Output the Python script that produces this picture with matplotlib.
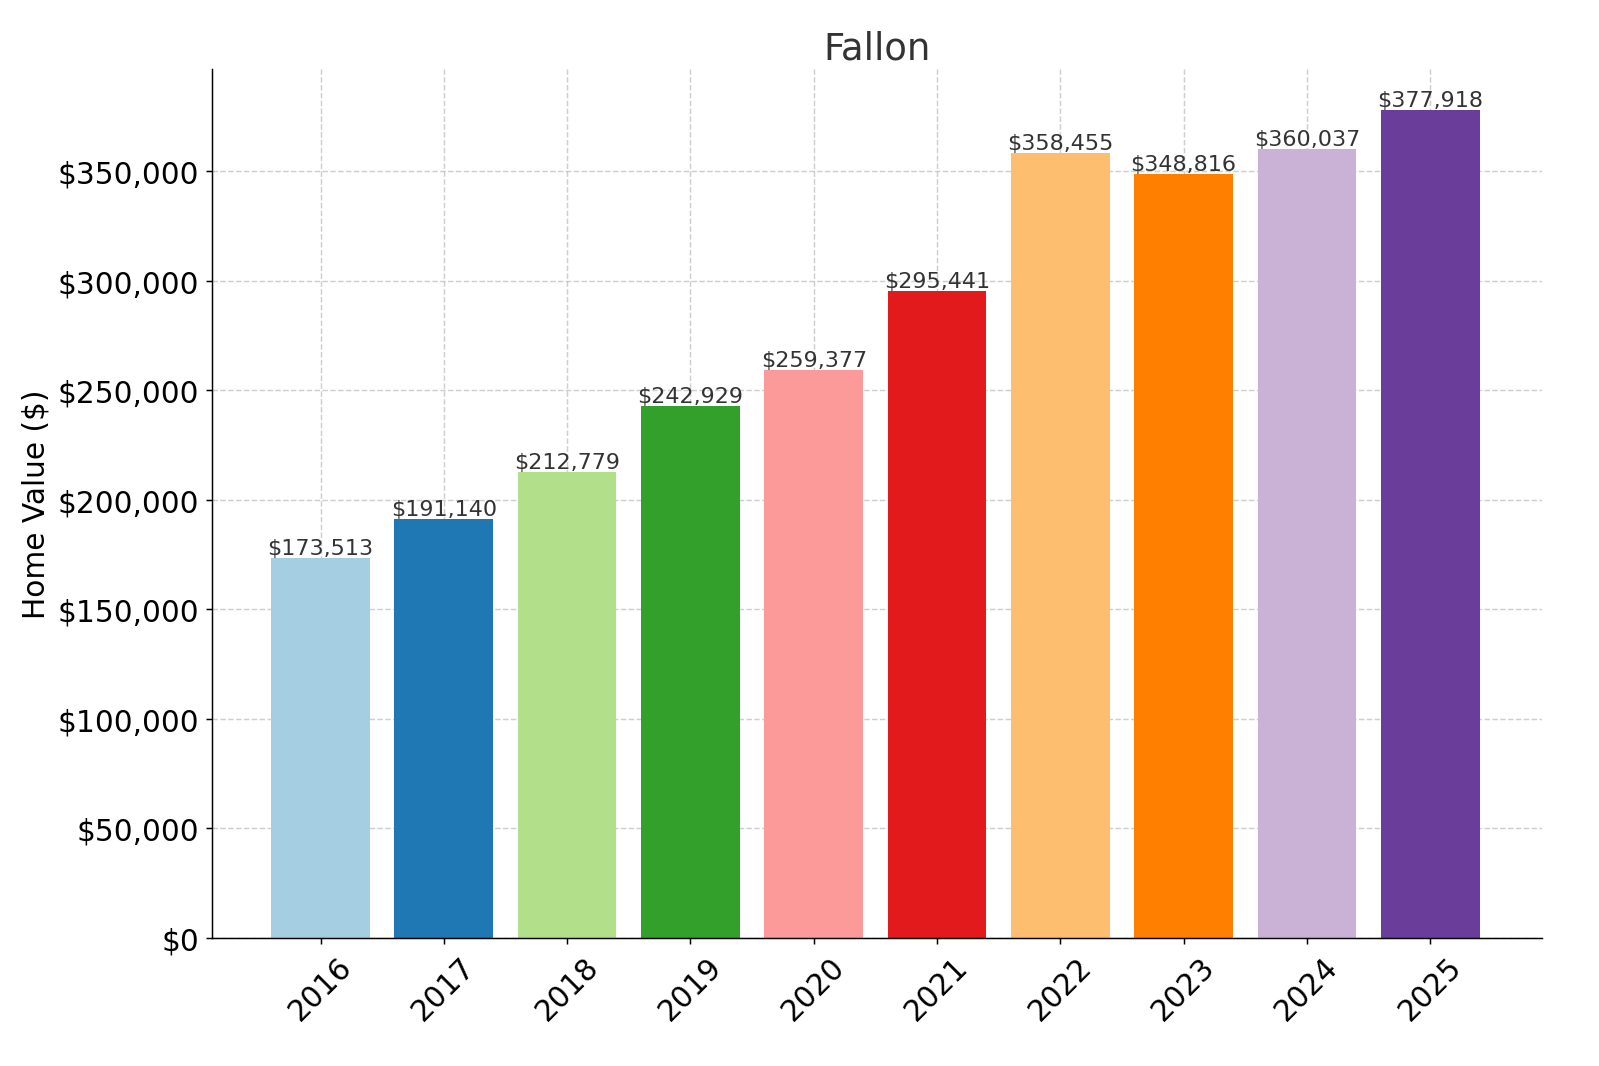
import matplotlib
matplotlib.use("Agg")
import matplotlib.pyplot as plt
from matplotlib.ticker import FuncFormatter

years = ["2016", "2017", "2018", "2019", "2020", "2021", "2022", "2023", "2024", "2025"]
values = [173513, 191140, 212779, 242929, 259377, 295441, 358455, 348816, 360037, 377918]

colors = plt.cm.Paired.colors[:len(years)]

fig = plt.figure(figsize=(12, 8.0025), dpi=133.333)
ax = fig.add_axes([0.1325, 0.12, 0.8315, 0.814])
x = range(len(years))
bars = ax.bar(x, values, width=0.8, color=colors, zorder=2)
for bar, val in zip(bars, values):
    ax.text(bar.get_x() + bar.get_width() / 2, bar.get_height(), f"${val:,}",
            ha="center", va="bottom", fontsize=12, color="#333333", zorder=3)

ax.set_xticks(list(x))
ax.set_xticklabels(years, rotation=45, fontsize=16)
ax.yaxis.set_major_formatter(FuncFormatter(lambda v, _: f"${v:,.0f}"))
ax.tick_params(axis="y", labelsize=16)
ax.set_xlim(-0.88, 9.91)
ax.set_ylim(0, 396500)
ax.set_ylabel("Home Value ($)", fontsize=16)
ax.set_title("Fallon", fontsize=20, color="#333333")
ax.grid(True, linestyle="--", alpha=0.6, zorder=3)
ax.spines["top"].set_visible(False)
ax.spines["right"].set_visible(False)
fig.savefig("out.png", dpi=133.333)
